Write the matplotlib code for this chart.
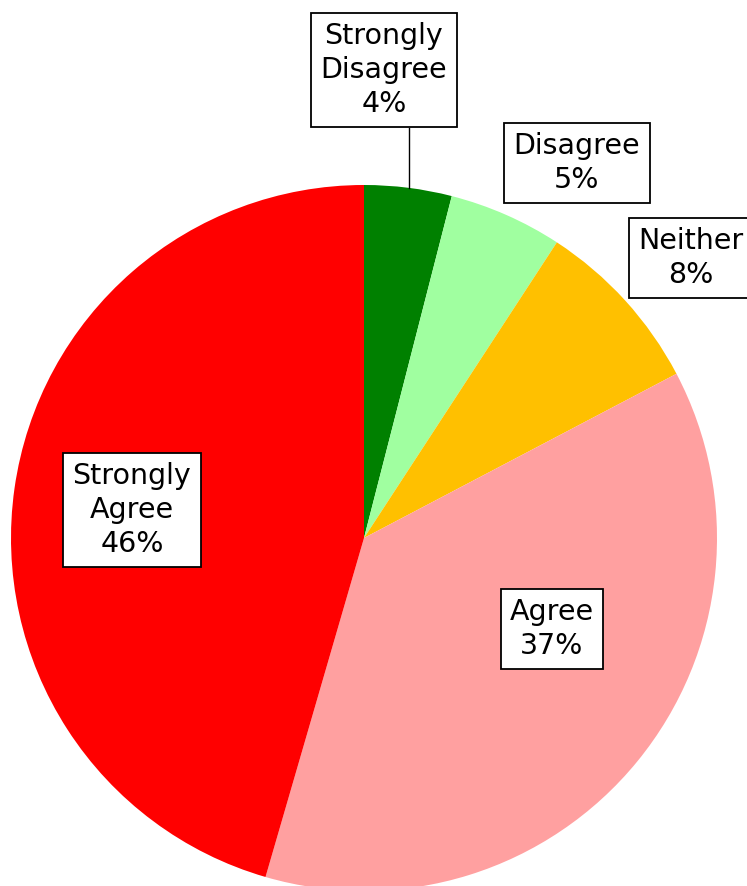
import matplotlib.pyplot as plt

# survey responses (% of respondents), clockwise from 12 o'clock
labels = ['Strongly\nDisagree', 'Disagree', 'Neither', 'Agree', 'Strongly\nAgree']
values = [4.0, 5.2, 8.1, 37.2, 45.5]
colors = ['#008000', '#A0FFA0', '#FFC000', '#FFA0A0', '#FF0000']

# label box centres (pixel coords, y measured from the top)
label_pos = [(384, 70), (577, 163), (691, 258), (552, 629), (132, 510)]

W, H = 747, 886
cx, cy, r = 364, 538, 353

fig = plt.figure(figsize=(W / 100, H / 100), dpi=100)
ax = fig.add_axes([0, 0, 1, 1])

ax.pie(values, colors=colors, startangle=90, counterclock=False,
       center=(cx, H - cy), radius=r, frame=True,
       wedgeprops=dict(linewidth=0))

for lab, v, (px, py) in zip(labels, values, label_pos):
    ax.text(px, H - py, '%s\n%d%%' % (lab, int(v + 0.5)), ha='center', va='center',
            fontsize=20.5, linespacing=1.27, family='DejaVu Sans',
            bbox=dict(boxstyle='square,pad=0.33', fc='white', ec='black', lw=1.3),
            zorder=5)

# leader line for the thin top slice
ax.plot([409, 409], [H - 128, H - 188], color='black', lw=1, zorder=4)

ax.set_xlim(0, W)
ax.set_ylim(0, H)
ax.set_aspect('equal')
ax.axis('off')

fig.savefig('out.png', dpi=100)
